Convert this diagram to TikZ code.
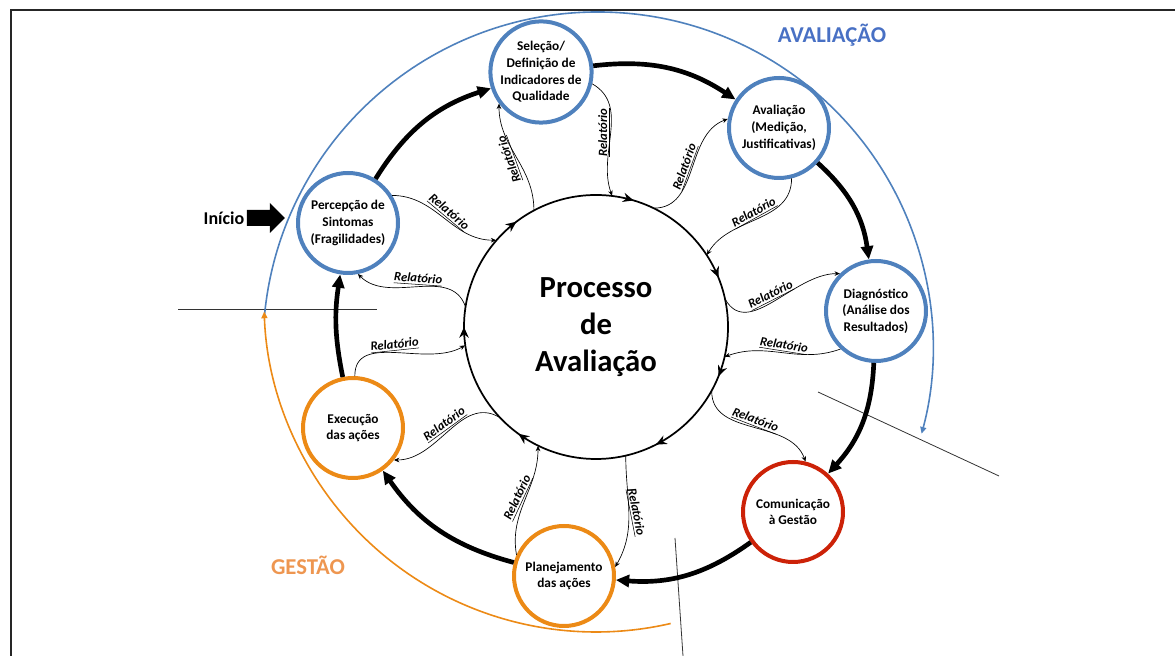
\documentclass[tikz,border=0pt]{standalone}
\usepackage{fontspec}
\setmainfont{Carlito}
\usepackage{tikz}
\usetikzlibrary{arrows.meta,decorations.markings,calc}

\definecolor{avalblue}{RGB}{79,129,189}
\definecolor{gestorange}{RGB}{236,138,22}
\definecolor{comred}{RGB}{204,34,8}
\definecolor{titleblue}{RGB}{72,112,196}
\definecolor{titleorange}{RGB}{238,150,80}

\newcommand{\reltxt}{\underline{Relatório}}

\tikzset{
  stage/.style={circle, draw=#1, line width=3pt, minimum size=75pt, inner sep=0pt,
    align=center, font=\bfseries\fontsize{10}{12.5}\selectfont},
  cyc/.style={line width=3.5pt, -{Triangle[length=10pt,width=9pt]}},
  rel/.style={line width=0.5pt, -{Stealth[length=4pt,width=3.5pt]}},
  rellabel/.style={midway, anchor=south, inner sep=0.6pt,
    font=\bfseries\itshape\fontsize{9.5}{10}\selectfont},
  circtip/.style={postaction={decorate, decoration={markings,
    mark=at position #1 with {\arrowreversed{Stealth[length=8pt,width=7pt]}}}}},
  title/.style={font=\bfseries\fontsize{17}{17}\selectfont, text=#1}
}

\begin{document}
\begin{tikzpicture}[x=0.75pt,y=0.75pt]
\useasboundingbox (0,0) rectangle (1175,656);

%frame
\draw [line width=1.5pt, black!85] (11,0) -- (11,646) -- (1175,646);

%thin lines
\draw [line width=0.6pt, black!80] (178,347) -- (377,347);
\draw [line width=0.6pt, black!80] (818,264) -- (999,180);
\draw [line width=0.6pt, black!80] (675,118) -- (683,0);

%outer arcs
\draw [avalblue, line width=1.2pt, -{Triangle[length=5pt,width=4.5pt]}] (598,309) ++(175:335) arc[start angle=175, end angle=-15, x radius=335, y radius=335];
\draw [gestorange, line width=1.2pt, -{Triangle[length=5pt,width=4.5pt]}] (596,356) ++(-77:332) arc[start angle=-77, end angle=-178, radius=332];

% Central circle
\node [circle, minimum size=198pt, inner sep=0pt, align=center, font=\bfseries\fontsize{23}{28}\selectfont] (proc) at (596,329) {Processo\\de\\Avaliação};
\draw [line width=1.3pt, circtip/.list={0.061,0.204,0.353,0.5,0.65,0.825,0.939}] (proc.center) circle[radius=99pt];

% Stages
\node [stage=avalblue] (perc) at (348,433) {Percepção de\\Sintomas\\(Fragilidades)};
\node [stage=avalblue] (sel) at (541,584) {Seleção/\\Definição de\\Indicadores de\\Qualidade};
\node [stage=avalblue] (aval) at (779,528) {Avaliação\\(Medição,\\Justificativas)};
\node [stage=avalblue] (diag) at (876,345) {Diagnóstico\\(Análise dos\\Resultados)};
\node [stage=comred] (com) at (793,144) {Comunicação\\à Gestão};
\node [stage=gestorange] (plan) at (564,80) {Planejamento\\das ações};
\node [stage=gestorange] (exe) at (353,228) {Execução\\das ações};

% Cycle
\draw [cyc] (perc) to[bend left=20] (sel);
\draw [cyc] (sel) to[bend left=20] (aval);
\draw [cyc] (aval) to[bend left=20] (diag);
\draw [cyc] (diag) to[bend left=20] (com);
\draw [cyc] (com) to[bend left=20] (plan);
\draw [cyc] (plan) to[bend left=20] (exe);
\draw [cyc] (exe) to[bend left=10] (perc);

% Relatorios
\draw [rel] (perc.32) to[out=0,in=180] node[rellabel, rotate=-40] {\reltxt} (proc.139);
\draw [rel] (proc.171) to[out=110,in=-45] node[rellabel, rotate=-4] {\reltxt} (perc.-79);
\draw [rel] (exe.88) to[out=90,in=210] node[rellabel, rotate=6] {\reltxt} (proc.188);
\draw [rel] (proc.223) to[out=150,in=0] node[rellabel, rotate=36] {\reltxt} (exe.-38);
\draw [rel] (plan.156) to[out=100,in=-90] node[rellabel, rotate=65] {\reltxt} (proc.244);
\draw [rel] (proc.-77) to[out=-90,in=60] node[rellabel, rotate=-79] {\reltxt} (plan.10);
\draw [rel] (proc.-29) to[out=-90,in=110] node[rellabel, rotate=-21] {\reltxt} (com.76);
\draw [rel] (proc.12) to[out=-60,in=180] node[rellabel, rotate=27] {\reltxt} (diag.134);
\draw [rel] (diag.227) to[out=200,in=20] node[rellabel, rotate=-9] {\reltxt} (proc.-13);
\draw [rel] (aval.-76) to[out=-90,in=60] node[rellabel, rotate=29] {\reltxt} (proc.33);
\draw [rel] (proc.64) to[out=0,in=200] node[rellabel, rotate=70] {\reltxt} (aval.170);
\draw [rel] (sel.-13) to[out=-30,in=110] node[rellabel, rotate=90] {\reltxt} (proc.83);
\draw [rel] (proc.118) to[out=90,in=-90] node[rellabel, rotate=110] {\reltxt} (sel.217);

% Titles
\node [title=titleblue] (avaltitle) at (832,621) {AVALIAÇÃO};
\node [title=titleorange] (gesttitle) at (308,91) {GESTÃO};

% Inicio
\node [font=\bfseries\fontsize{13.5}{14}\selectfont, inner sep=1pt] (inicio) at (224,438) {Início};
\fill ($(inicio.east)+(1,8)$) -- ++(23,0) -- ++(0,7) -- ++(15,-15) -- ++(-15,-15) -- ++(0,7) -- ++(-23,0) -- cycle;

\end{tikzpicture}
\end{document}
